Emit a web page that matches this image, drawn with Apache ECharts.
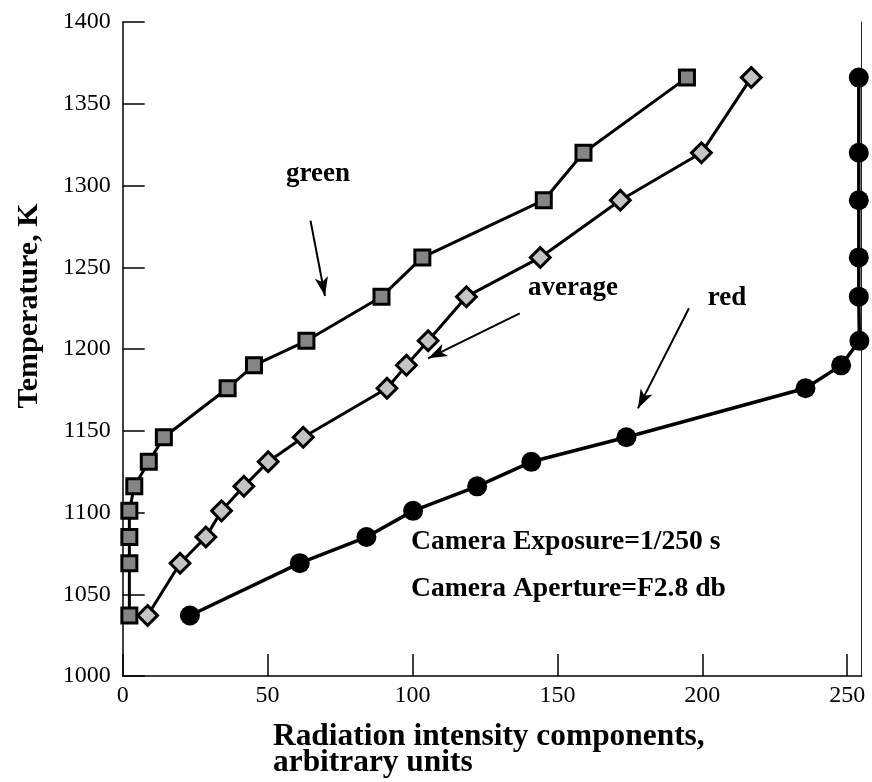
<!DOCTYPE html>
<html>
<head>
<meta charset="utf-8">
<script src="https://cdn.jsdelivr.net/npm/echarts@6/dist/echarts.min.js"></script>
<style>html,body{margin:0;padding:0;background:#fff}#c{width:872px;height:782px}</style>
</head>
<body>
<div id="c"></div>
<script>
const temperatures = [1037, 1069, 1085, 1101, 1116, 1131, 1146, 1176, 1190, 1205, 1232, 1256, 1291, 1320, 1366];
const greenValues = [2.3, 2.3, 2.3, 2.3, 4, 9, 14.2, 36.2, 45.3, 63.4, 89.3, 103.4, 145.3, 159, 194.7];
const averageValues = [8.6, 19.8, 28.7, 34.1, 41.8, 50.2, 62.3, 91.2, 97.9, 105.4, 118.6, 144.1, 171.7, 199.7, 216.9];
const redValues = [23.2, 61.1, 84.1, 100.2, 122.3, 141.0, 173.8, 235.6, 247.9, 254.2, 254, 254, 254, 254, 254];
const xTicks = [0, 50, 100, 150, 200, 250];
const yTicks = [1000, 1050, 1100, 1150, 1200, 1250, 1300, 1350, 1400];
// annotation arrows in data units: [fromX, fromY, toX, toY]
const arrows = [
  [64.8, 1278.5, 69.8, 1232.4],
  [137.0, 1221.8, 105.4, 1194.3],
  [195.4, 1224.9, 177.8, 1163.7]
];

const FONT = "'Liberation Serif','Times New Roman',serif";
const pair = (xs) => xs.map((v, i) => [v, temperatures[i]]);

const chart = echarts.init(document.getElementById('c'), null, {renderer: 'canvas'});
chart.setOption({
  animation: false,
  backgroundColor: '#fff',
  grid: {left: 122.7, right: 10.3, top: 22, bottom: 106},
  xAxis: {
    type: 'value', min: 0, max: 255, interval: 50,
    axisLine: {show: true, onZero: false, lineStyle: {color: '#000', width: 1.5}},
    axisTick: {show: true, inside: true, length: 22, lineStyle: {color: '#000', width: 1.5}},
    axisLabel: {color: '#000', fontFamily: FONT, fontSize: 24, margin: 8, showMaxLabel: false,
      formatter: (v) => xTicks.includes(v) ? String(v) : ''},
    splitLine: {show: false}
  },
  yAxis: [{
    type: 'value', min: 1000, max: 1400, interval: 50,
    axisLine: {show: true, onZero: false, lineStyle: {color: '#000', width: 1.5}},
    axisTick: {show: true, inside: true, length: 22, lineStyle: {color: '#000', width: 1.5}},
    axisLabel: {color: '#000', fontFamily: FONT, fontSize: 24, margin: 12,
      formatter: (v) => yTicks.includes(v) ? String(v) : ''},
    splitLine: {show: false}
  }, {
    type: 'value', min: 1000, max: 1400, position: 'right',
    axisLine: {show: true, onZero: false, lineStyle: {color: '#222', width: 1}},
    axisTick: {show: false}, axisLabel: {show: false}, splitLine: {show: false}
  }],
  series: [
    {
      name: 'green', type: 'line', data: pair(greenValues),
      symbol: 'rect', symbolSize: 15,
      lineStyle: {color: '#000', width: 3},
      itemStyle: {color: '#858585', borderColor: '#000', borderWidth: 3},
      z: 3
    },
    {
      name: 'average', type: 'line', data: pair(averageValues),
      symbol: 'rect', symbolSize: 14, symbolRotate: 45,
      lineStyle: {color: '#000', width: 3},
      itemStyle: {color: '#c4c4c4', borderColor: '#000', borderWidth: 3},
      z: 3
    },
    {
      name: 'red', type: 'line', data: pair(redValues),
      symbol: 'circle', symbolSize: 20,
      lineStyle: {color: '#000', width: 3.5},
      itemStyle: {color: '#000', borderColor: '#000', borderWidth: 0},
      z: 3
    },
    {
      name: 'arrows', type: 'line', data: [], silent: true,
      markLine: {
        silent: true, symbol: ['none', 'arrow'], symbolSize: [10, 19],
        label: {show: false},
        lineStyle: {color: '#000', width: 2, type: 'solid'},
        data: arrows.map(a => [{coord: [a[0], a[1]]}, {coord: [a[2], a[3]]}])
      }
    }
  ],
  graphic: [
    {type: 'text', rotation: Math.PI / 2, x: 29, y: 306, style: {text: 'Temperature, K', x: 0, y: 0, textAlign: 'center', textVerticalAlign: 'middle', font: 'bold 30px ' + FONT, fill: '#000'}},
    {type: 'text', style: {text: 'green', x: 318, y: 174, textAlign: 'center', textVerticalAlign: 'middle', font: 'bold 27px ' + FONT, fill: '#000'}},
    {type: 'text', style: {text: 'average', x: 573, y: 288, textAlign: 'center', textVerticalAlign: 'middle', font: 'bold 27px ' + FONT, fill: '#000'}},
    {type: 'text', style: {text: 'red', x: 727, y: 298, textAlign: 'center', textVerticalAlign: 'middle', font: 'bold 27px ' + FONT, fill: '#000'}},
    {type: 'text', style: {text: 'Camera Exposure=1/250 s', x: 411, y: 542, textAlign: 'left', textVerticalAlign: 'middle', font: 'bold 27.6px ' + FONT, fill: '#000'}},
    {type: 'text', style: {text: 'Camera Aperture=F2.8 db', x: 411, y: 589, textAlign: 'left', textVerticalAlign: 'middle', font: 'bold 27.6px ' + FONT, fill: '#000'}},
    {type: 'text', style: {text: 'Radiation intensity components,\narbitrary units', x: 273, y: 724, textAlign: 'left', textVerticalAlign: 'top', lineHeight: 26, font: 'bold 31.4px ' + FONT, fill: '#000'}}
  ]
});
</script>
</body>
</html>
